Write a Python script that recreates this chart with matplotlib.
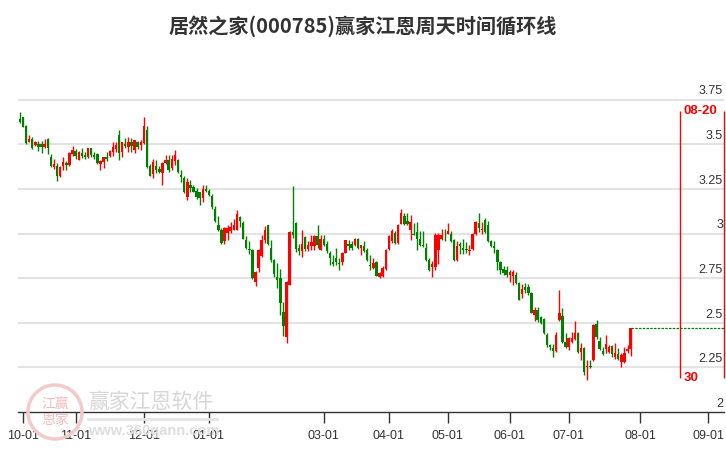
import matplotlib
matplotlib.use('Agg')
import matplotlib.pyplot as plt
import matplotlib.transforms as mtransforms
from matplotlib.patches import Ellipse

plt.rcParams['font.family'] = ['Liberation Sans', 'Noto Sans CJK SC', 'DejaVu Sans']

title = '居然之家(000785)赢家江恩周天时间循环线'

# daily candles, one per trading day (index 0 = first bar)
opens = [3.641, 3.650, 3.602, 3.515, 3.530, 3.496, 3.502, 3.500, 3.487, 3.530,
         3.431, 3.370, 3.376, 3.320, 3.376, 3.394, 3.385, 3.444, 3.465, 3.413,
         3.452, 3.441, 3.426, 3.481, 3.441, 3.444, 3.389, 3.400, 3.431, 3.437,
         3.459, 3.472, 3.550, 3.459, 3.500, 3.487, 3.511, 3.470, 3.513, 3.494,
         3.507, 3.578, 3.378, 3.333, 3.378, 3.359, 3.337, 3.393, 3.411, 3.365,
         3.407, 3.411, 3.328, 3.313, 3.207, 3.272, 3.263, 3.239, 3.230, 3.198,
         3.248, 3.239, 3.211, 3.139, 3.050, 3.022, 2.957, 3.004, 3.013, 3.022,
         3.022, 3.093, 3.059, 2.961, 2.911, 2.906, 2.730, 2.804, 2.873, 2.961,
         3.045, 2.920, 2.854, 2.757, 2.752, 2.562, 2.422, 2.711, 3.009, 3.060,
         2.920, 2.901, 2.981, 2.916, 2.929, 2.929, 2.985, 2.907, 2.970, 2.942,
         2.892, 2.841, 2.864, 2.832, 2.840, 2.892, 2.944, 2.942, 2.933, 2.970,
         2.920, 2.929, 2.907, 2.821, 2.808, 2.840, 2.759, 2.763, 2.801, 2.914,
         2.957, 3.004, 2.947, 3.056, 3.098, 3.070, 3.019, 3.000, 3.009, 2.970,
         2.932, 2.919, 2.853, 2.812, 2.812, 2.910, 2.970, 3.000, 3.000, 3.000,
         2.962, 2.850, 2.942, 2.919, 2.914, 2.900, 2.914, 3.000, 3.060, 3.019,
         3.075, 3.045, 2.957, 2.932, 2.910, 2.838, 2.801, 2.797, 2.769, 2.763,
         2.769, 2.722, 2.660, 2.699, 2.699, 2.666, 2.544, 2.572, 2.535, 2.522,
         2.432, 2.377, 2.357, 2.344, 2.516, 2.538, 2.394, 2.366, 2.394, 2.407,
         2.441, 2.338, 2.357, 2.250, 2.258, 2.291, 2.493, 2.400, 2.344, 2.351,
         2.338, 2.370, 2.306, 2.325, 2.281, 2.281, 2.344, 2.351]
highs = [3.681, 3.654, 3.607, 3.552, 3.543, 3.519, 3.519, 3.519, 3.530, 3.533,
         3.444, 3.417, 3.394, 3.376, 3.426, 3.407, 3.454, 3.491, 3.472, 3.461,
         3.481, 3.459, 3.481, 3.481, 3.454, 3.450, 3.413, 3.431, 3.459, 3.469,
         3.511, 3.511, 3.580, 3.511, 3.537, 3.543, 3.533, 3.526, 3.517, 3.522,
         3.652, 3.600, 3.389, 3.415, 3.411, 3.378, 3.402, 3.439, 3.439, 3.439,
         3.467, 3.420, 3.356, 3.322, 3.309, 3.300, 3.272, 3.254, 3.235, 3.272,
         3.272, 3.248, 3.222, 3.152, 3.096, 3.031, 3.037, 3.050, 3.063, 3.081,
         3.133, 3.100, 3.069, 2.985, 2.957, 2.911, 2.791, 2.911, 2.994, 3.041,
         3.050, 2.961, 2.858, 2.836, 2.802, 2.616, 2.733, 3.013, 3.265, 3.063,
         2.944, 3.022, 2.985, 2.957, 2.994, 2.994, 3.050, 2.994, 2.994, 2.957,
         2.901, 2.882, 2.920, 2.864, 2.896, 2.961, 2.961, 2.957, 2.976, 2.976,
         2.933, 2.957, 2.920, 2.882, 2.864, 2.844, 2.782, 2.816, 2.914, 2.994,
         3.023, 3.013, 3.051, 3.139, 3.113, 3.113, 3.102, 3.060, 3.064, 3.013,
         3.013, 2.947, 2.863, 2.844, 3.004, 3.004, 3.023, 3.023, 3.060, 3.013,
         2.970, 2.957, 2.951, 2.970, 2.951, 2.938, 3.004, 3.070, 3.113, 3.064,
         3.088, 3.070, 2.966, 2.957, 2.914, 2.844, 2.816, 2.819, 2.793, 2.793,
         2.787, 2.731, 2.718, 2.722, 2.718, 2.675, 2.587, 2.587, 2.538, 2.525,
         2.441, 2.381, 2.381, 2.450, 2.681, 2.581, 2.441, 2.419, 2.450, 2.512,
         2.450, 2.385, 2.362, 2.291, 2.291, 2.493, 2.516, 2.419, 2.366, 2.432,
         2.375, 2.375, 2.385, 2.357, 2.329, 2.362, 2.375, 2.473]
lows = [3.620, 3.594, 3.504, 3.511, 3.474, 3.489, 3.463, 3.450, 3.478, 3.444,
        3.370, 3.363, 3.293, 3.315, 3.354, 3.354, 3.381, 3.437, 3.419, 3.411,
        3.422, 3.419, 3.422, 3.431, 3.419, 3.391, 3.354, 3.367, 3.404, 3.428,
        3.437, 3.459, 3.413, 3.431, 3.481, 3.459, 3.459, 3.452, 3.476, 3.470,
        3.504, 3.365, 3.320, 3.313, 3.337, 3.337, 3.272, 3.389, 3.346, 3.356,
        3.383, 3.337, 3.291, 3.226, 3.189, 3.235, 3.230, 3.193, 3.161, 3.174,
        3.230, 3.211, 3.139, 3.063, 3.013, 2.944, 2.944, 2.961, 3.004, 3.019,
        3.019, 3.035, 2.967, 2.911, 2.883, 2.744, 2.707, 2.785, 2.867, 2.948,
        2.938, 2.840, 2.757, 2.692, 2.541, 2.425, 2.388, 2.709, 2.976, 2.896,
        2.877, 2.868, 2.901, 2.901, 2.910, 2.910, 2.920, 2.907, 2.929, 2.888,
        2.826, 2.817, 2.826, 2.795, 2.821, 2.888, 2.910, 2.907, 2.929, 2.914,
        2.882, 2.896, 2.845, 2.795, 2.799, 2.763, 2.750, 2.759, 2.797, 2.910,
        2.947, 2.944, 2.944, 3.051, 3.045, 3.045, 2.962, 2.989, 2.910, 2.932,
        2.923, 2.844, 2.788, 2.756, 2.797, 2.831, 2.966, 2.957, 2.996, 2.951,
        2.844, 2.844, 2.887, 2.887, 2.891, 2.882, 2.910, 2.989, 3.008, 3.000,
        3.004, 2.951, 2.923, 2.891, 2.797, 2.774, 2.769, 2.759, 2.731, 2.713,
        2.718, 2.625, 2.638, 2.666, 2.656, 2.553, 2.512, 2.507, 2.493, 2.437,
        2.366, 2.347, 2.310, 2.338, 2.512, 2.389, 2.357, 2.347, 2.389, 2.403,
        2.332, 2.291, 2.207, 2.179, 2.244, 2.287, 2.407, 2.347, 2.319, 2.329,
        2.329, 2.310, 2.295, 2.291, 2.254, 2.276, 2.329, 2.314]
closes = [3.626, 3.598, 3.509, 3.530, 3.478, 3.511, 3.487, 3.487, 3.502, 3.478,
          3.376, 3.389, 3.320, 3.372, 3.400, 3.385, 3.450, 3.469, 3.437, 3.454,
          3.437, 3.428, 3.478, 3.441, 3.426, 3.394, 3.404, 3.431, 3.419, 3.463,
          3.487, 3.496, 3.450, 3.511, 3.493, 3.515, 3.493, 3.522, 3.485, 3.513,
          3.600, 3.374, 3.324, 3.398, 3.356, 3.343, 3.393, 3.411, 3.356, 3.415,
          3.439, 3.343, 3.319, 3.230, 3.291, 3.254, 3.235, 3.204, 3.198, 3.248,
          3.237, 3.217, 3.146, 3.069, 3.019, 2.948, 3.031, 3.031, 3.037, 3.050,
          3.111, 3.069, 2.970, 2.920, 2.907, 2.748, 2.785, 2.906, 2.961, 3.022,
          2.942, 2.851, 2.771, 2.739, 2.612, 2.481, 2.730, 3.009, 2.994, 2.914,
          2.901, 2.942, 2.916, 2.933, 2.953, 2.985, 2.933, 2.970, 2.938, 2.901,
          2.860, 2.830, 2.840, 2.828, 2.892, 2.961, 2.929, 2.920, 2.970, 2.920,
          2.933, 2.901, 2.851, 2.817, 2.832, 2.763, 2.778, 2.806, 2.910, 2.985,
          3.013, 2.947, 3.045, 3.113, 3.051, 3.056, 3.064, 2.994, 2.970, 2.938,
          2.929, 2.850, 2.797, 2.831, 2.994, 2.994, 2.989, 2.996, 3.013, 2.957,
          2.850, 2.932, 2.929, 2.910, 2.906, 2.910, 3.000, 3.064, 3.032, 3.026,
          3.008, 2.957, 2.929, 2.919, 2.838, 2.793, 2.778, 2.769, 2.782, 2.787,
          2.722, 2.625, 2.688, 2.684, 2.666, 2.557, 2.572, 2.516, 2.501, 2.441,
          2.375, 2.362, 2.344, 2.432, 2.557, 2.394, 2.366, 2.413, 2.413, 2.445,
          2.338, 2.357, 2.226, 2.258, 2.254, 2.488, 2.419, 2.351, 2.325, 2.381,
          2.362, 2.325, 2.332, 2.295, 2.319, 2.329, 2.351, 2.469]

# month ticks (trading-day index of first session of the month)
tick_pos = [1, 18, 40, 61, 98, 119, 138, 158, 177, 200, 222]
tick_labels = ['10-01', '11-01', '12-01', '01-01', '03-01', '04-01',
               '05-01', '06-01', '07-01', '08-01', '09-01']
price_levels = [2, 2.25, 2.5, 2.75, 3, 3.25, 3.5, 3.75]
price_labels = ['2', '2.25', '2.5', '2.75', '3', '3.25', '3.5', '3.75']

# cycle lines
cycle_pos = [213, 227]
cycle_top_label = '08-20'
cycle_bottom_label = '30'
cycle_lo, cycle_hi = 2.19, 3.687

up_col = '#ff0000'
down_col = '#008000'

fig = plt.figure(figsize=(7.26, 4.5), dpi=100)
ax = fig.add_axes([18/726, 38/450, 706/726, 327/450])
ax.set_xlim(-0.6, 227.1)
ax.set_ylim(2, 3.832)

# grid
for v in price_levels[1:]:
    ax.axhline(v, color='#e3e3e3', lw=1.5, zorder=0)

# candles
xs = list(range(len(closes)))
for i in xs:
    o, h, l, c = opens[i], highs[i], lows[i], closes[i]
    col = up_col if c >= o else down_col
    ax.vlines(i, l, h, color=col, lw=1.0, zorder=2)
    ax.bar(i, max(abs(c - o), 0.004), bottom=min(o, c), width=0.78,
           color=col, lw=0, zorder=3)

# last close extended
ax.hlines(closes[-1], xs[-1], 227.1, color=down_col, lw=0.9,
          linestyles=(0, (2, 1)), zorder=2, clip_on=False)

# cycle lines
for p in cycle_pos:
    ax.vlines(p, cycle_lo, cycle_hi, color='red', lw=1.0, zorder=4, clip_on=False)
ax.text(cycle_pos[0] + 0.9, cycle_hi, cycle_top_label, color='red',
        fontsize=9.5, fontweight='bold', ha='left', va='center', zorder=5)
ax.text(cycle_pos[0] + 1.2, cycle_lo, cycle_bottom_label, color='red',
        fontsize=9.5, fontweight='bold', ha='left', va='center', zorder=5)

# price labels on the right, above grid lines
trans = mtransforms.blended_transform_factory(ax.transAxes, ax.transData)
for v, s in zip(price_levels, price_labels):
    ax.text(0.9985, v + 0.012, s, transform=trans, ha='right', va='bottom',
            fontsize=9, color='#333333', zorder=5)

for side in ['top', 'right', 'left']:
    ax.spines[side].set_visible(False)
ax.spines['bottom'].set_color('#333333')
ax.spines['bottom'].set_linewidth(1.0)
ax.set_yticks([])
ax.set_xticks(tick_pos)
ax.set_xticklabels(tick_labels)
ax.tick_params(axis='x', direction='out', length=8, width=1, color='#333333',
               labelsize=9, labelcolor='#333333', pad=5)

fig.text(0.5, 1 - 26/450, title, ha='center', va='center', fontsize=14.5,
         fontweight='bold', color='#333333', family=['Noto Sans CJK SC', 'DejaVu Sans'])

# watermark
wm = '#d6d6d6'
fig.patches.append(Ellipse((55/726, 1 - 412/450), 54/726, 54/450, transform=fig.transFigure,
                           fill=False, ec='#f3caca', lw=2.5, zorder=1))
fig.text(55/726, 1 - 412/450, '江赢\n恩家', ha='center', va='center', fontsize=10,
         color='#f0bcbc', linespacing=1.1, family=['Noto Sans CJK SC', 'DejaVu Sans'])
fig.text(88/726, 1 - 402/450, '赢家江恩软件', ha='left', va='center', fontsize=15,
         color=wm, family=['Noto Sans CJK SC', 'DejaVu Sans'])
fig.lines.append(plt.Line2D([88/726, 217/726], [1 - 419/450, 1 - 419/450],
                            transform=fig.transFigure, color='#e4e4e4', lw=2))
fig.text(88/726, 1 - 431/450, 'www.360gann.com', ha='left', va='center',
         fontsize=10.5, fontweight='bold', color='#dedede')

fig.savefig('out.png', dpi=100)
